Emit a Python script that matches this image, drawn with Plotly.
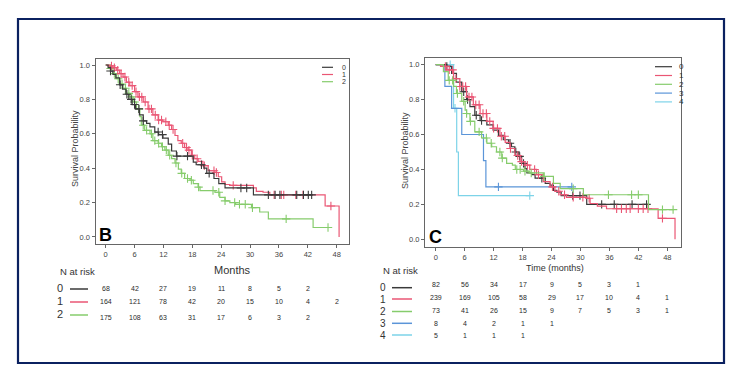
import plotly.graph_objects as go

W, H = 743, 384

# ---------------- data ----------------
TICKS_MONTHS = [0, 6, 12, 18, 24, 30, 36, 42, 48]
Y_TICKS = [0.0, 0.2, 0.4, 0.6, 0.8, 1.0]
Y_TICK_TEXT = ["0.0", "0.2", "0.4", "0.6", "0.8", "1.0"]

GROUPS_B = ["0", "1", "2"]
GROUPS_C = ["0", "1", "2", "3", "4"]

# Panel B - Kaplan-Meier steps (months, survival)
B0_T = [0, 0.5, 1.0, 1.5, 2.1, 2.9, 3.5, 4.2, 4.8, 5.5, 6.2, 7.0, 7.8, 8.5, 9.2, 10.2, 11.0, 11.9,
        13.0, 13.7, 14.7, 18.2, 18.8, 20.4, 21.0, 22.5, 23.5, 24.8, 30.7, 43.0]
B0_S = [1.0, 0.985, 0.965, 0.945, 0.925, 0.885, 0.86, 0.83, 0.80, 0.77, 0.745, 0.71, 0.675, 0.66, 0.64,
        0.61, 0.595, 0.575, 0.54, 0.50, 0.47, 0.435, 0.42, 0.40, 0.37, 0.34, 0.31, 0.285, 0.245, 0.245]
B0_CENS = [1.0, 3.0, 4.4, 5.3, 6.0, 6.9, 7.8, 10.9, 11.8, 14.8, 17.0, 19.9, 21.5, 28.1, 29.3,
           33.8, 35.2, 36.2, 39.7, 41.1, 42.1, 42.8]

B1_T = [0, 0.8, 1.5, 2.2, 2.9, 3.6, 4.3, 5.0, 6.0, 6.7, 7.8, 8.8, 9.8, 10.9, 11.9, 13.0, 13.7, 14.4,
        15.0, 15.7, 16.4, 17.1, 17.8, 18.5, 19.2, 20.2, 21.3, 22.7, 23.4, 24.1, 24.8, 25.8, 30.7, 31.3,
        32.7, 34.1, 45.6, 48.5]
B1_S = [1.0, 0.995, 0.985, 0.97, 0.95, 0.93, 0.90, 0.88, 0.845, 0.815, 0.785, 0.745, 0.71, 0.68, 0.67,
        0.65, 0.625, 0.59, 0.56, 0.545, 0.52, 0.505, 0.475, 0.455, 0.44, 0.415, 0.385, 0.375, 0.35, 0.32,
        0.305, 0.30, 0.285, 0.265, 0.26, 0.245, 0.18, 0.0]
B1_CENS = [1.2, 1.8, 2.5, 3.2, 4.0, 4.8, 5.5, 6.3, 7.0, 7.5, 8.2, 9.0, 9.5, 10.3, 11.0, 11.6, 12.5, 13.2,
           14.0, 16.0, 16.8, 17.3, 18.0, 19.0, 20.5, 22.5, 23.0, 26.5, 35.0, 36.5, 37.0, 39.5, 41.0, 46.8]

B2_T = [0, 0.8, 1.5, 2.2, 2.9, 3.6, 4.3, 5.0, 5.7, 6.4, 7.1, 7.4, 8.1, 9.2, 9.8, 10.9, 11.6, 12.3, 13.0,
        13.7, 14.4, 15.1, 15.7, 16.4, 17.5, 18.2, 19.2, 19.6, 22.7, 23.7, 24.8, 25.8, 27.0, 30.3, 32.0,
        33.8, 43.1, 46.3]
B2_S = [1.0, 0.98, 0.95, 0.92, 0.89, 0.865, 0.835, 0.815, 0.785, 0.745, 0.70, 0.65, 0.62, 0.60, 0.56,
        0.545, 0.525, 0.505, 0.475, 0.455, 0.43, 0.395, 0.37, 0.34, 0.33, 0.31, 0.29, 0.27, 0.26, 0.23,
        0.21, 0.20, 0.19, 0.17, 0.145, 0.105, 0.055, 0.055]
B2_CENS = [1.0, 1.8, 2.6, 3.4, 4.1, 4.8, 5.4, 6.0, 6.9, 7.8, 8.5, 9.5, 10.2, 11.0, 11.8, 12.6, 13.3, 14.6,
           15.8, 17.0, 17.8, 19.3, 22.3, 23.5, 24.8, 26.8, 27.8, 29.0, 30.5, 37.5, 46.2]

# Panel C
C0_T = [0, 2.3, 3.3, 4.3, 5.4, 6.4, 7.1, 8.1, 9.2, 10.6, 11.9, 13.0, 14.0, 15.1, 15.7, 16.4, 17.1, 17.8,
        18.5, 18.9, 19.9, 20.6, 22.7, 23.7, 24.4, 25.1, 26.0, 31.3, 44.1]
C0_S = [1.0, 0.99, 0.95, 0.90, 0.845, 0.80, 0.76, 0.71, 0.68, 0.655, 0.625, 0.595, 0.57, 0.55, 0.53,
        0.50, 0.475, 0.435, 0.405, 0.38, 0.37, 0.35, 0.32, 0.31, 0.28, 0.27, 0.25, 0.20, 0.20]
C0_CENS = [2.3, 5.8, 6.6, 8.4, 9.5, 15.4, 16.6, 17.4, 18.2, 22.0, 28.4, 29.9, 34.4, 37.0, 40.7, 43.7]

C1_T = [0, 1.0, 2.3, 3.7, 5.0, 6.4, 7.8, 9.2, 10.6, 11.9, 13.3, 14.4, 15.4, 16.4, 17.5, 18.5, 19.5, 20.9,
        22.3, 23.7, 24.7, 25.8, 27.1, 31.3, 32.0, 33.5, 35.4, 46.1, 49.6]
C1_S = [1.0, 0.99, 0.97, 0.92, 0.875, 0.815, 0.77, 0.72, 0.675, 0.635, 0.59, 0.555, 0.52, 0.48, 0.445,
        0.425, 0.40, 0.37, 0.33, 0.30, 0.275, 0.255, 0.24, 0.235, 0.205, 0.19, 0.175, 0.12, 0.0]
C1_CENS = [2.0, 2.8, 3.5, 4.2, 5.0, 5.6, 6.2, 6.9, 7.5, 8.3, 9.0, 9.8, 10.5, 11.2, 12.0, 12.8, 13.6, 14.3,
           15.5, 17.0, 17.8, 19.0, 20.5, 21.3, 24.2, 25.5, 26.7, 28.5, 30.5, 31.8, 37.5, 38.5, 39.5,
           40.3, 42.0, 43.0, 44.0, 47.0]

C2_T = [0, 1.6, 2.6, 3.7, 4.3, 5.4, 6.1, 6.4, 7.1, 8.1, 9.5, 10.6, 11.6, 12.6, 13.7, 14.7, 15.9, 16.5,
        18.2, 19.5, 22.3, 24.4, 25.8, 30.6, 44.1, 49.4]
C2_S = [1.0, 0.96, 0.91, 0.875, 0.835, 0.79, 0.74, 0.72, 0.675, 0.615, 0.58, 0.55, 0.53, 0.50, 0.465,
        0.435, 0.425, 0.40, 0.39, 0.38, 0.36, 0.32, 0.29, 0.255, 0.17, 0.17]
C2_CENS = [2.8, 3.5, 4.5, 5.8, 6.4, 7.2, 9.0, 10.5, 11.5, 13.3, 13.8, 16.8, 17.5, 18.5, 19.8, 22.5,
           28.5, 35.8, 40.6, 42.0, 47.0, 49.2]

C3_T = [0, 1.9, 3.3, 5.4, 9.9, 10.4, 28.2]
C3_S = [1.0, 0.875, 0.75, 0.60, 0.45, 0.30, 0.30]
C3_CENS = [13.0, 28.2]

C4_T = [0, 3.7, 4.35, 4.7, 19.5]
C4_S = [1.0, 0.75, 0.50, 0.25, 0.25]
C4_CENS = [3.0, 4.0, 19.5]

# Number at risk tables
RISK_B0 = ["68", "42", "27", "19", "11", "8", "5", "2", ""]
RISK_B1 = ["164", "121", "78", "42", "20", "15", "10", "4", "2"]
RISK_B2 = ["175", "108", "63", "31", "17", "6", "3", "2", ""]

RISK_C0 = ["82", "56", "34", "17", "9", "5", "3", "1", ""]
RISK_C1 = ["239", "169", "105", "58", "29", "17", "10", "4", "1"]
RISK_C2 = ["73", "41", "26", "15", "9", "7", "5", "3", "1"]
RISK_C3 = ["8", "4", "2", "1", "1", "", "", "", ""]
RISK_C4 = ["5", "1", "1", "1", "", "", "", "", ""]

COLORS = ["#3a3a3a", "#ea5674", "#86cc6c", "#5b95d8", "#7dd3e8"]

# ---------------- helpers ----------------
def px(x):
    return x / W


def py(y):
    return 1 - y / H


def step_val(T, S, t):
    v = S[0]
    for ti, si in zip(T, S):
        if ti <= t:
            v = si
    return v


fig = go.Figure()


def add_curve(T, S, cens, color, xa, ya):
    fig.add_trace(go.Scatter(x=T, y=S, mode="lines", line=dict(shape="hv", color=color, width=1.2),
                             xaxis=xa, yaxis=ya, showlegend=False, hoverinfo="skip"))
    fig.add_trace(go.Scatter(x=cens, y=[step_val(T, S, c) for c in cens], mode="markers",
                             marker=dict(symbol="cross-thin", size=6, line=dict(width=1.1, color=color)),
                             xaxis=xa, yaxis=ya, showlegend=False, hoverinfo="skip"))


add_curve(B2_T, B2_S, B2_CENS, COLORS[2], "x", "y")
add_curve(B1_T, B1_S, B1_CENS, COLORS[1], "x", "y")
add_curve(B0_T, B0_S, B0_CENS, COLORS[0], "x", "y")

add_curve(C4_T, C4_S, C4_CENS, COLORS[4], "x2", "y2")
add_curve(C3_T, C3_S, C3_CENS, COLORS[3], "x2", "y2")
add_curve(C0_T, C0_S, C0_CENS, COLORS[0], "x2", "y2")
add_curve(C1_T, C1_S, C1_CENS, COLORS[1], "x2", "y2")
add_curve(C2_T, C2_S, C2_CENS, COLORS[2], "x2", "y2")

axis_common = dict(showline=True, mirror=True, linecolor="#666", linewidth=1, ticks="outside",
                   ticklen=3, tickcolor="#666", showgrid=False, zeroline=False,
                   tickfont=dict(size=7.5, color="#444", family="Liberation Sans, Arial, sans-serif"))

fig.update_layout(
    width=W, height=H, margin=dict(l=0, r=0, t=0, b=0),
    paper_bgcolor="white", plot_bgcolor="white",
    font=dict(family="Liberation Sans, Arial, sans-serif"),
    xaxis=dict(domain=[px(95.5), px(349)], range=[-2.12, 50.56], tickvals=TICKS_MONTHS, anchor="y",
               **axis_common),
    yaxis=dict(domain=[py(244), py(59)], range=[-0.041, 1.035], tickvals=Y_TICKS, ticktext=Y_TICK_TEXT,
               anchor="x", **axis_common),
    xaxis2=dict(domain=[px(425), px(681)], range=[-2.22, 50.84], tickvals=TICKS_MONTHS, anchor="y2",
                **axis_common),
    yaxis2=dict(domain=[py(247), py(58)], range=[-0.044, 1.038], tickvals=Y_TICKS, ticktext=Y_TICK_TEXT,
                anchor="x2", **axis_common),
)

shapes = []
ann = []

# outer frame
shapes.append(dict(type="rect", xref="paper", yref="paper", x0=px(18), x1=px(724), y0=py(363), y1=py(19),
                   line=dict(color="#0b2160", width=2.2)))


def text(x, y, s, size, color="#333", xanchor="center", bold=False, angle=0, xref="paper"):
    ann.append(dict(x=x, y=py(y), xref=xref, yref="paper", text=f"<b>{s}</b>" if bold else s,
                    showarrow=False, xanchor=xanchor, yanchor="middle", textangle=angle,
                    font=dict(size=size, color=color)))


# y axis titles
text(px(75), 149, "Survival Probability", 9, color="#444", angle=-90)
text(px(405), 151, "Survival Probability", 9, color="#444", angle=-90)

# panel letters
text(px(105), 235, "B", 18, color="#000", bold=True)
text(px(436), 237, "C", 18, color="#000", bold=True)

# legends inside plots
for i, g in enumerate(GROUPS_B):
    yy = 67.3 + i * 7.2
    shapes.append(dict(type="line", xref="paper", yref="paper", x0=px(322), x1=px(333), y0=py(yy), y1=py(yy),
                       line=dict(color=COLORS[i], width=1.2)))
    text(px(340), yy, g, 7, color="#333", xanchor="left")

for i, g in enumerate(GROUPS_C):
    yy = 66.7 + i * 8.8
    shapes.append(dict(type="line", xref="paper", yref="paper", x0=px(655), x1=px(672), y0=py(yy), y1=py(yy),
                       line=dict(color=COLORS[i], width=1.2)))
    text(px(677), yy, g, 8, color="#333", xanchor="left")

# number at risk B
text(px(58), 271, "N at risk", 9.5, color="#333", xanchor="left")
text(px(232), 270, "Months", 11, color="#333")
rows_b = [RISK_B0, RISK_B1, RISK_B2]
label_y_b = [288, 301, 314]
num_y_b = [288, 301, 317]
for i, row in enumerate(rows_b):
    text(px(59.5), label_y_b[i], GROUPS_B[i], 11, color="#333")
    shapes.append(dict(type="line", xref="paper", yref="paper", x0=px(70), x1=px(88),
                       y0=py(label_y_b[i] + 1), y1=py(label_y_b[i] + 1),
                       line=dict(color=COLORS[i], width=1.5)))
    for t, v in zip(TICKS_MONTHS, row):
        if v:
            ann.append(dict(x=t, y=py(num_y_b[i]), xref="x", yref="paper", text=v, showarrow=False,
                            xanchor="center", yanchor="middle", font=dict(size=7, color="#2a2a2a")))

# number at risk C
text(px(381), 270, "N at risk", 9.5, color="#333", xanchor="left")
text(px(555), 268, "Time (months)", 9, color="#333")
rows_c = [RISK_C0, RISK_C1, RISK_C2, RISK_C3, RISK_C4]
label_y_c = [287.7, 299, 311.5, 323.3, 335]
num_y_c = [284.3, 297.3, 310.7, 323.3, 335]
for i, row in enumerate(rows_c):
    text(px(382.5), label_y_c[i], GROUPS_C[i], 10, color="#333")
    shapes.append(dict(type="line", xref="paper", yref="paper", x0=px(392), x1=px(412),
                       y0=py(label_y_c[i]), y1=py(label_y_c[i]),
                       line=dict(color=COLORS[i], width=1.5)))
    for t, v in zip(TICKS_MONTHS, row):
        if v:
            ann.append(dict(x=t, y=py(num_y_c[i]), xref="x2", yref="paper", text=v, showarrow=False,
                            xanchor="center", yanchor="middle", font=dict(size=7, color="#2a2a2a")))

fig.update_layout(shapes=shapes, annotations=ann)

fig.write_html("out.html", config={"displayModeBar": False, "staticPlot": True},
               post_script="document.body.style.margin='0';document.body.style.padding='0';")
